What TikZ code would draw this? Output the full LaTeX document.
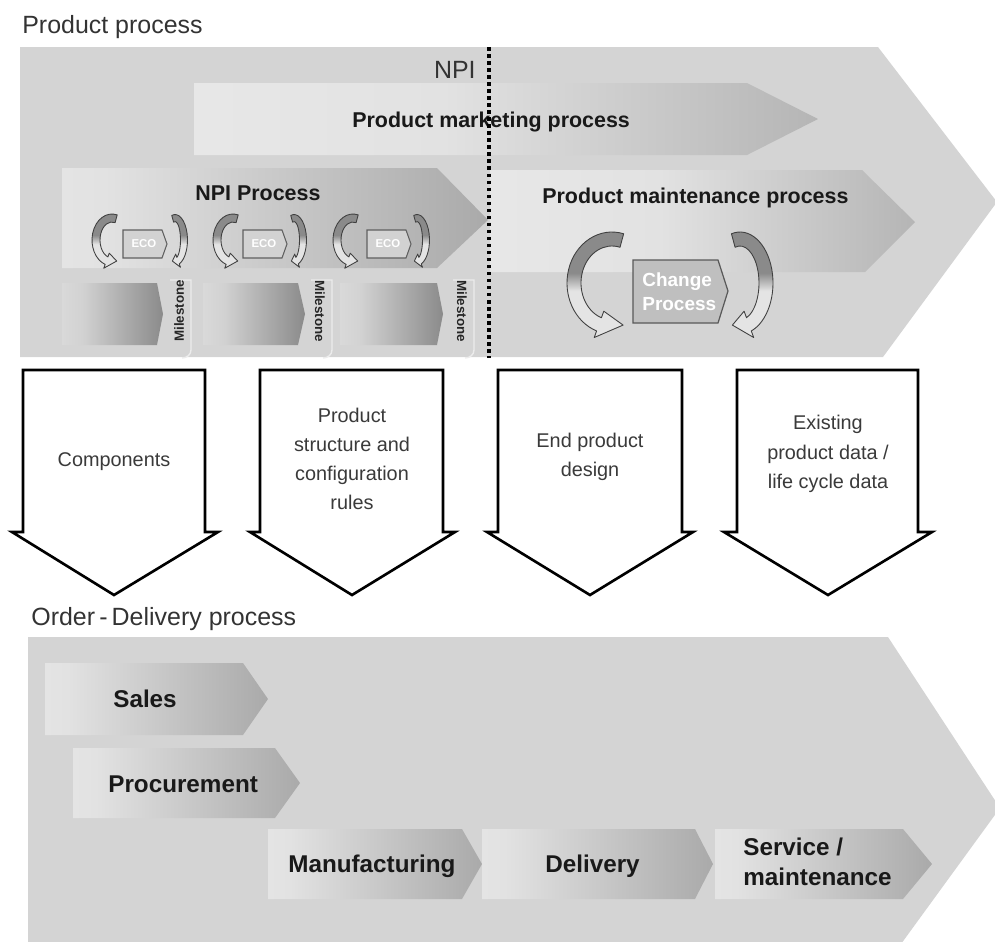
\documentclass[tikz,border=0pt]{standalone}
\usepackage{fontspec}
\setmainfont{Liberation Sans}
\definecolor{bggray}{HTML}{D4D4D4}
\definecolor{txtgray}{HTML}{333333}
\definecolor{dtxt}{HTML}{3A3A3A}
\definecolor{pA}{HTML}{EEEEEE}
\definecolor{pB}{HTML}{E2E2E2}
\definecolor{pC}{HTML}{A6A6A6}
\definecolor{pD}{HTML}{808080}
\definecolor{mA}{HTML}{EAEAEA}
\definecolor{mB}{HTML}{D2D2D2}
\definecolor{mD}{HTML}{5E5E5E}
\definecolor{cycdark}{HTML}{8A8A8A}
\definecolor{cyclight}{HTML}{E4E4E4}
\pgfdeclarehorizontalshading{procshade}{100bp}{color(0bp)=(pA); color(30bp)=(pB); color(78bp)=(pC); color(100bp)=(pD)}
\pgfdeclarehorizontalshading{longshade}{100bp}{color(0bp)=(pA); color(45bp)=(pB); color(85bp)=(pC); color(100bp)=(pD)}
\pgfdeclarehorizontalshading{mileshade}{100bp}{color(0bp)=(mA); color(35bp)=(mB); color(100bp)=(mD)}
\pgfdeclareverticalshading{cycshade}{100bp}{color(0bp)=(cyclight); color(46bp)=(cyclight); color(54bp)=(cycdark); color(100bp)=(cycdark)}
\newcommand\cycarrow[6]{%
  \pgfmathsetmacro\cyOa{#3+#5/2}\pgfmathsetmacro\cyOb{#4+#5/2}%
  \pgfmathsetmacro\cyIa{#3-#5/2}\pgfmathsetmacro\cyIb{#4-#5/2}%
  \pgfmathsetmacro\cyHa{#3+#5}\pgfmathsetmacro\cyHb{#4+#5}%
  \pgfmathsetmacro\cyLa{#3-#5}\pgfmathsetmacro\cyLb{#4-#5}%
  \begin{scope}[shift={(#1,-#2)},xscale=#6]
    \draw[cycstyle] (75:{\cyOa} and {\cyOb})
      arc[start angle=75,end angle=250,x radius=\cyOa,y radius=\cyOb]
      -- (250:{\cyHa} and {\cyHb}) -- (287:{#3} and {#4})
      -- (250:{\cyLa} and {\cyLb}) -- (250:{\cyIa} and {\cyIb})
      arc[start angle=250,end angle=75,x radius=\cyIa,y radius=\cyIb] -- cycle;
  \end{scope}}
\begin{document}
\begin{tikzpicture}[x=0.02cm,y=0.02cm,
  title/.style={font=\fontsize{14.2}{16}\selectfont, text=txtgray, inner sep=0pt},
  boldmid/.style={font=\fontsize{12.2}{14}\selectfont\bfseries, text=black!90, inner sep=0pt},
  boldbig/.style={font=\fontsize{13.8}{16.5}\selectfont\bfseries, text=black!90, inner sep=0pt, align=left},
  downarrow/.style={fill=white, draw=black, line width=1.5pt, line join=miter},
  dtext/.style={font=\fontsize{11.3}{16.6}\selectfont, text=dtxt, align=center, inner sep=0pt},
  proc/.style={shading=procshade},
  longproc/.style={shading=longshade},
  mile/.style={shading=mileshade},
  miletext/.style={font=\fontsize{7.6}{8}\selectfont\bfseries, text=black!85, inner sep=0pt},
  tabline/.style={draw=white!85!gray, line width=0.8pt},
  cycstyle/.style={shading=cycshade, draw=black!75, line width=0.5pt, line join=round},
  ecobox/.style={fill=gray!35, draw=gray!75!black, line width=0.6pt},
  ecotext/.style={font=\fontsize{6.5}{7}\selectfont\bfseries, text=white, inner sep=0pt},
  chgbox/.style={fill=gray!50, draw=gray!70!black, line width=0.7pt},
  chgtext/.style={font=\fontsize{10.8}{13.5}\selectfont\bfseries, text=white, align=left, inner sep=0pt},
  dotline/.style={draw=black, line width=2pt, dash pattern=on 2pt off 2pt}
]
\useasboundingbox (0,0) rectangle (995,-941);
\clip (0,0) rectangle (995,-941);

% ---------- Product process ----------
\node[title, anchor=base west] (ptitle) at (22,-33) {Product process};
\fill[bggray] (20,-47) -- (878,-47) -- (997,-202) -- (883,-357) -- (20,-357) -- cycle;

% marketing arrow
\path[longproc] (194,-83) -- (747,-83) -- (818,-119) -- (747,-155) -- (194,-155) -- cycle;
\node[boldmid, anchor=base west] (mkt) at (352,-127) {Product marketing process};

% NPI arrow
\path[proc] (62,-168) -- (437,-168) -- (488,-220) -- (437,-268) -- (62,-268) -- cycle;
\node[boldmid, anchor=base west] (npip) at (195,-200) {NPI Process};

% maintenance arrow
\path[longproc] (490,-170) -- (862,-170) -- (915,-222) -- (865,-272) -- (490,-272) -- cycle;
\node[boldmid, anchor=base west] (maint) at (542,-203) {Product maintenance process};

% NPI label and dotted line
\node[title, anchor=base east] (npi) at (476,-78) {NPI};
\coordinate (dtop) at (489,-47);
\coordinate (dbot) at (489,-358);
\draw[dotline] (dtop) -- (dbot);

% milestone phases
\path[mile] (62,-283) -- (157,-283) -- (163,-314) -- (157,-345) -- (62,-345) -- cycle;
\path[mile] (203,-283) -- (298,-283) -- (305,-314) -- (298,-345) -- (203,-345) -- cycle;
\path[mile] (340,-283) -- (437,-283) -- (443,-314) -- (437,-345) -- (340,-345) -- cycle;
\foreach \tc/\rot/\nm in {179/90/ms1, 320/-90/ms2, 462/-90/ms3}{
  \draw[tabline] (\tc-9,-280) -- (\tc+12,-280) -- (\tc+12,-350) to[out=-90,in=0] (\tc+3,-358);
  \node[miletext, rotate=\rot] (\nm) at (\tc,-311) {Milestone};
}

% ECO cycles
\cycarrow{112}{240}{16}{22}{8}{1}
\cycarrow{175}{240}{9}{22}{7}{-1}
\cycarrow{233}{240}{16}{22}{8}{1}
\cycarrow{294}{240}{9}{22}{7}{-1}
\cycarrow{353}{240}{16}{22}{8}{1}
\cycarrow{417}{240}{9}{22}{7}{-1}
\foreach \bx/\nm in {123/eco1, 243/eco2, 367/eco3}{
  \draw[ecobox] (\bx,-230) -- (\bx+39,-230) -- (\bx+44,-244) -- (\bx+39,-258) -- (\bx,-258) -- cycle;
  \node[ecotext] (\nm) at (\bx+21,-244) {ECO};
}

% Change process cycle
\cycarrow{612}{283}{38}{44}{14}{1}
\cycarrow{740}{283}{26}{44}{14}{-1}
\draw[chgbox] (633,-260) -- (718,-260) -- (728,-291) -- (718,-323) -- (633,-323) -- cycle;
\node[chgtext, anchor=base west] (chg) at (642,-310) {Change\\Process};

% ---------- Down arrows ----------
\draw[downarrow] (23,-370) -- (205,-370) -- (205,-532) -- (218,-532) -- (114,-595) -- (12,-532) -- (23,-532) -- cycle;
\draw[downarrow] (260,-370) -- (443,-370) -- (443,-532) -- (455,-532) -- (352,-595) -- (250,-532) -- (260,-532) -- cycle;
\draw[downarrow] (498,-370) -- (682,-370) -- (682,-532) -- (693,-532) -- (590,-595) -- (487,-532) -- (498,-532) -- cycle;
\draw[downarrow] (737,-370) -- (918,-370) -- (918,-532) -- (932,-532) -- (828,-595) -- (724,-532) -- (737,-532) -- cycle;
\node[dtext] (comp) at (114,-462) {Components};
\node[dtext] (pstruct) at (352,-459) {Product\\structure and\\configuration\\rules};
\node[dtext] (endp) at (590,-457) {End product\\design};
\node[dtext] (exist) at (828,-454) {Existing\\product data /\\life cycle data};

% ---------- Order-Delivery process ----------
\node[title, anchor=base west] (otitle) at (31,-625) {Order\,-\,Delivery process};
\fill[bggray] (28,-637) -- (888,-637) -- (1000,-808) -- (893,-955) -- (28,-955) -- cycle;

\path[proc] (45,-663) -- (243,-663) -- (268,-699) -- (243,-735) -- (45,-735) -- cycle;
\node[boldbig, anchor=base west] (sales) at (113,-707) {Sales};
\path[proc] (73,-748) -- (275,-748) -- (300,-783) -- (275,-818) -- (73,-818) -- cycle;
\node[boldbig, anchor=base west] (proc) at (108,-792) {Procurement};
\path[proc] (268,-829) -- (462,-829) -- (482,-864) -- (462,-899) -- (268,-899) -- cycle;
\node[boldbig, anchor=base west] (manu) at (288,-872) {Manufacturing};
\path[proc] (482,-829) -- (695,-829) -- (713,-864) -- (695,-899) -- (482,-899) -- cycle;
\node[boldbig, anchor=base west] (deliv) at (545,-872) {Delivery};
\path[proc] (715,-829) -- (903,-829) -- (932,-864) -- (903,-899) -- (715,-899) -- cycle;
\node[boldbig, anchor=base west] (serv) at (743,-855) {Service /};
\node[boldbig, anchor=base west] (serv2) at (743,-885) {maintenance};
\end{tikzpicture}
\end{document}
